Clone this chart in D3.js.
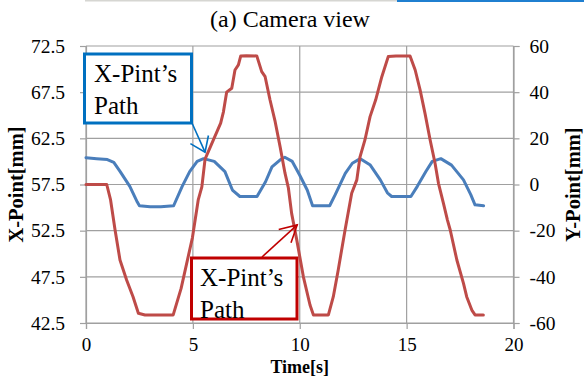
<!DOCTYPE html>
<html>
<head>
<meta charset="utf-8">
<script src="https://cdn.jsdelivr.net/npm/d3@7"></script>
<style>
  body { margin: 0; background: #fff; }
  svg { display: block; }
</style>
</head>
<body>
<div id="chart"></div>
<script>
// X-Point (left axis) over time
const timeX = [0, 0.5, 1.0, 1.3, 1.6, 2.05, 2.4, 2.5, 3.0, 3.5, 4.1, 4.5, 4.85, 5.2, 5.5, 6.0, 6.5, 6.85, 7.2, 7.6,
  8.0, 8.4, 8.7, 9.1, 9.3, 9.65, 10.0, 10.35, 10.6, 11.0, 11.4, 11.66, 12.13, 12.46, 12.83, 13.3, 13.77, 14.1, 14.3,
  14.7, 15.2, 15.5, 15.9, 16.2, 16.6, 17.1, 17.66, 18.0, 18.2, 18.6];
const xPoint = [60.4, 60.3, 60.2, 59.9, 58.9, 57.3, 55.6, 55.2, 55.1, 55.1, 55.2, 57.3, 58.9, 60.0, 60.3, 60.0, 58.9, 56.9, 56.2, 56.2,
  56.2, 57.8, 59.4, 60.2, 60.45, 60.0, 58.5, 56.9, 55.2, 55.2, 55.2, 56.4, 58.7, 59.8, 60.3, 59.6, 58.0, 56.6, 56.2,
  56.2, 56.2, 57.3, 58.9, 60.0, 60.3, 59.6, 58.0, 56.4, 55.3, 55.2];

// Y-Point (right axis) over time
const timeY = [0, 0.5, 0.97, 1.15, 1.36, 1.59, 1.9, 2.2, 2.45, 2.76, 3.5, 4.08, 4.45, 4.98, 5.25, 5.42, 5.57, 5.96, 6.3, 6.43,
  6.58, 6.82, 6.97, 7.13, 7.24, 7.5, 7.99, 8.22, 8.38, 8.61, 8.85, 9.08, 9.31, 9.47, 9.62, 9.86, 10.17, 10.48, 10.64, 11.0,
  11.34, 11.57, 11.8, 12.12, 12.43, 12.67, 12.82, 13.05, 13.29, 13.55, 13.84, 14.14, 14.5, 15.16, 15.4, 15.63, 15.86, 16.1,
  16.33, 16.49, 16.72, 16.91, 17.04, 17.35, 17.66, 17.81, 18.05, 18.2, 18.59];
const yPoint = [0, 0, 0, -6.7, -19.7, -32.7, -41.4, -48.6, -55.8, -56.5, -56.5, -56.5, -45, -23, -6.7, -1, 11, 19.3, 26.6, 31.5,
  40, 41.7, 49.6, 51.8, 55.7, 55.8, 55.7, 48.9, 46.7, 36.6, 27.2, 16.4, 4.9, -1.6, -12.5, -24, -40, -52.2, -56.5, -56.5,
  -56.5, -48.6, -37, -19.7, -3.8, 2, 12, 19.3, 29.4, 36.6, 46.7, 55.4, 55.7, 55.7, 49.6, 41, 30.8, 19.3,
  9.2, 0.5, -8.1, -15.4, -19.7, -32.7, -42.8, -48.6, -54.4, -56.5, -56.5];

const xTicks = [0, 5, 10, 15, 20];
const leftTicks = [42.5, 47.5, 52.5, 57.5, 62.5, 67.5, 72.5];
const rightTicks = [-60, -40, -20, 0, 20, 40, 60];

const width = 584, height = 376;
const margin = {top: 46, right: 70.5, bottom: 53, left: 86};
const serif = "'Liberation Serif', 'DejaVu Serif', serif";

const svg = d3.select("#chart").append("svg")
  .attr("width", width)
  .attr("height", height);

// leftover strip from the page above
svg.append("rect").attr("x", 85).attr("y", 0).attr("width", 312).attr("height", 1.5).attr("fill", "#d6d6d2");
svg.append("rect").attr("x", 397).attr("y", 0).attr("width", 187).attr("height", 2).attr("fill", "#1f7fd0");

const x = d3.scaleLinear().domain([0, 20]).range([margin.left, width - margin.right]);
const yL = d3.scaleLinear().domain([42.5, 72.5]).range([height - margin.bottom, margin.top]);
const yR = d3.scaleLinear().domain([-60, 60]).range([height - margin.bottom, margin.top]);

const gridColor = "#a0a0a0";

// gridlines
svg.append("g").selectAll("line").data(leftTicks).enter().append("line")
  .attr("x1", x(0)).attr("x2", x(20))
  .attr("y1", d => yL(d)).attr("y2", d => yL(d))
  .attr("stroke", gridColor).attr("stroke-width", 1.2);
svg.append("g").selectAll("line").data(xTicks).enter().append("line")
  .attr("x1", d => x(d)).attr("x2", d => x(d))
  .attr("y1", yL(42.5)).attr("y2", yL(72.5))
  .attr("stroke", gridColor).attr("stroke-width", 1.2);

// axes
function styleAxis(g) {
  g.attr("font-family", serif).attr("font-size", 19.5);
  g.select(".domain").attr("stroke", gridColor).attr("stroke-width", 1.2);
  g.selectAll(".tick line").attr("stroke", gridColor).attr("stroke-width", 1.2);
  g.selectAll("text").attr("fill", "#000");
}

svg.append("g")
  .attr("transform", "translate(" + x(0) + ",0)")
  .call(d3.axisLeft(yL).tickValues(leftTicks).tickFormat(d3.format(".1f")).tickSize(6).tickPadding(15))
  .call(styleAxis);

svg.append("g")
  .attr("transform", "translate(" + x(20) + ",0)")
  .call(d3.axisRight(yR).tickValues(rightTicks).tickFormat(d => d < 0 ? "-" + Math.abs(d) : d).tickSize(6).tickPadding(10))
  .call(styleAxis);

svg.append("g")
  .attr("transform", "translate(0," + yL(42.5) + ")")
  .call(d3.axisBottom(x).tickValues(xTicks).tickSize(6).tickPadding(9))
  .call(styleAxis)
  .attr("font-size", 19);

// series
const lineX = d3.line().x((d, i) => x(timeX[i])).y(d => yL(d));
const lineY = d3.line().x((d, i) => x(timeY[i])).y(d => yR(d));

svg.append("path").datum(xPoint)
  .attr("d", lineX)
  .attr("fill", "none")
  .attr("stroke", "#4a7ebb")
  .attr("stroke-width", 3)
  .attr("stroke-linejoin", "round")
  .attr("stroke-linecap", "round");

svg.append("path").datum(yPoint)
  .attr("d", lineY)
  .attr("fill", "none")
  .attr("stroke", "#be4b48")
  .attr("stroke-width", 3)
  .attr("stroke-linejoin", "round")
  .attr("stroke-linecap", "round");

// titles
svg.append("text")
  .attr("x", 290).attr("y", 27)
  .attr("text-anchor", "middle")
  .attr("font-family", serif).attr("font-size", 24)
  .text("(a) Camera view");

svg.append("text")
  .attr("transform", "translate(23," + (margin.top + height - margin.bottom) / 2 + ") rotate(-90)")
  .attr("text-anchor", "middle")
  .attr("font-family", serif).attr("font-size", 20.5).attr("font-weight", "bold")
  .text("X-Point[mm]");

svg.append("text")
  .attr("transform", "translate(580," + (margin.top + height - margin.bottom) / 2 + ") rotate(-90)")
  .attr("text-anchor", "middle")
  .attr("font-family", serif).attr("font-size", 20.5).attr("font-weight", "bold")
  .text("Y-Point[mm]");

svg.append("text")
  .attr("x", x(10)).attr("y", 372.5)
  .attr("text-anchor", "middle")
  .attr("font-family", serif).attr("font-size", 18).attr("font-weight", "bold")
  .text("Time[s]");

// callouts
function arrow(x1, y1, x2, y2, len, ang, color) {
  const a = Math.atan2(y1 - y2, x1 - x2);
  const p = "M" + (x2 + len * Math.cos(a - ang)) + "," + (y2 + len * Math.sin(a - ang)) +
    "L" + x2 + "," + y2 +
    "L" + (x2 + len * Math.cos(a + ang)) + "," + (y2 + len * Math.sin(a + ang));
  svg.append("line").attr("x1", x1).attr("y1", y1).attr("x2", x2).attr("y2", y2)
    .attr("stroke", color).attr("stroke-width", 1.6);
  svg.append("path").attr("d", p).attr("fill", "none")
    .attr("stroke", color).attr("stroke-width", 1.6);
}

function callout(bx, by, bw, bh, color, tx) {
  svg.append("rect")
    .attr("x", bx).attr("y", by).attr("width", bw).attr("height", bh)
    .attr("fill", "#fff").attr("stroke", color).attr("stroke-width", 3);
  const t = svg.append("text").attr("font-family", serif).attr("font-size", 25);
  t.append("tspan").attr("x", tx).attr("y", by + 28).text("X-Pint\u2019s");
  t.append("tspan").attr("x", tx).attr("y", by + 60).text("Path");
}

arrow(192, 123, x(5.57), yL(61.0), 17, 0.62, "#0070c0");
callout(84.5, 54, 107, 69, "#0070c0", 94);

arrow(262, 257, x(9.88), yR(-17.5), 19, 0.5, "#c00000");
callout(191.5, 258, 105.5, 61, "#c00000", 200);
</script>
</body>
</html>
